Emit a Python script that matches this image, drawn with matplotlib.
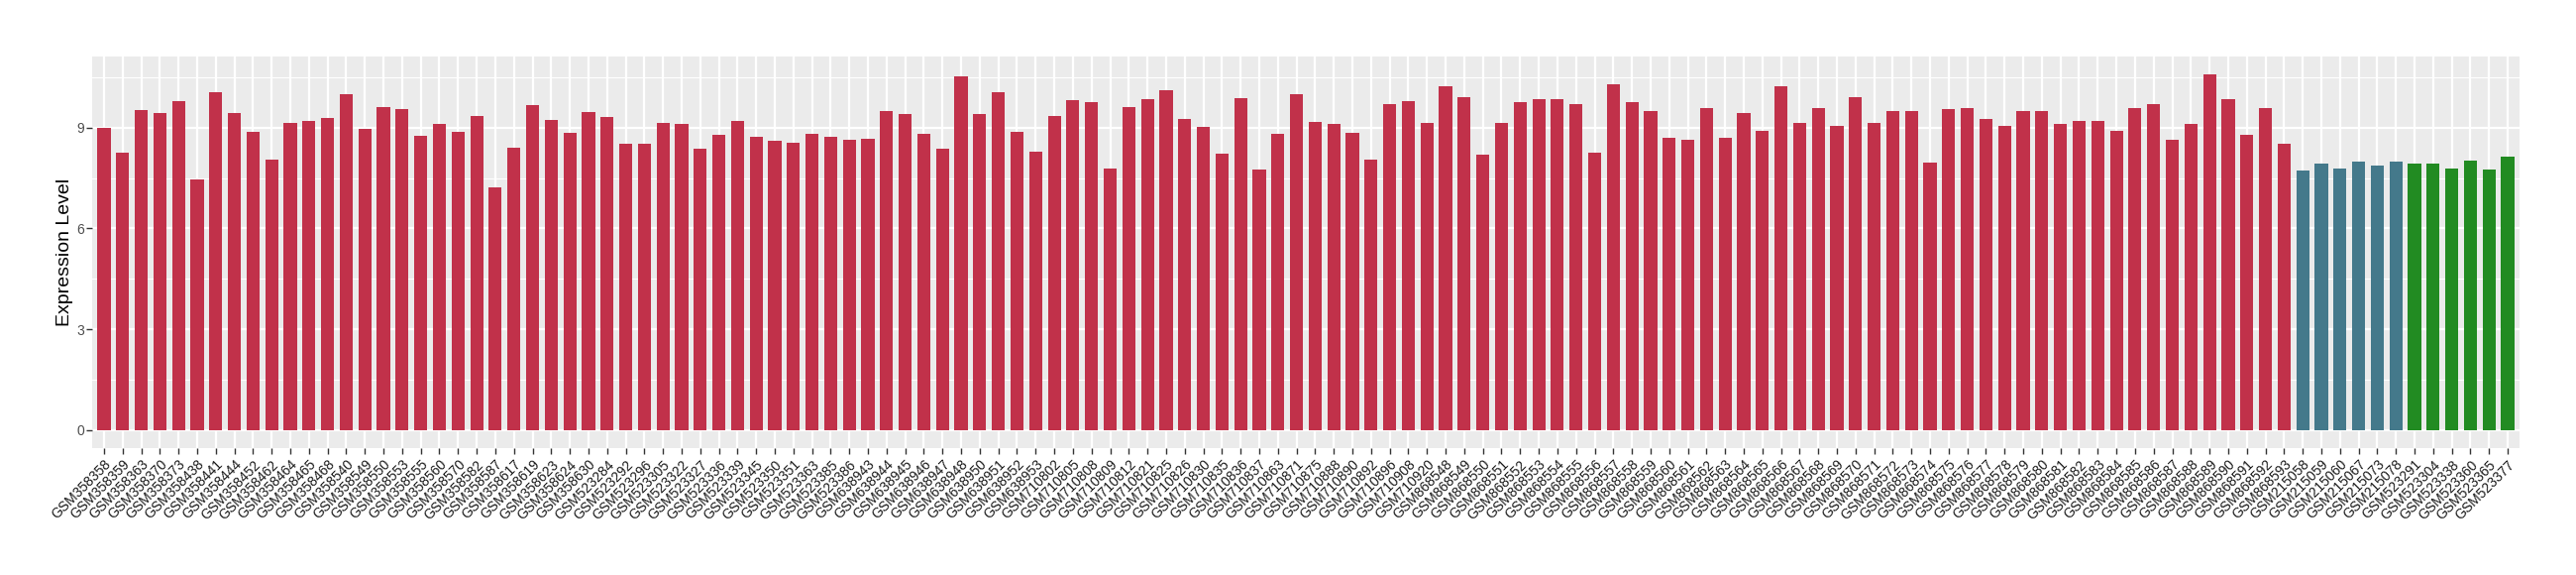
import matplotlib
matplotlib.use("Agg")
import matplotlib.pyplot as plt
from matplotlib.ticker import FixedLocator

plt.rcParams['font.family'] = ['Liberation Sans', 'DejaVu Sans']

group1_samples = [
    "GSM358358", "GSM358359", "GSM358363", "GSM358370", "GSM358373", "GSM358438",
    "GSM358441", "GSM358444", "GSM358452", "GSM358462", "GSM358464", "GSM358465",
    "GSM358468", "GSM358540", "GSM358549", "GSM358550", "GSM358553", "GSM358555",
    "GSM358560", "GSM358570", "GSM358582", "GSM358587", "GSM358617", "GSM358619",
    "GSM358623", "GSM358624", "GSM358630",
    "GSM523284", "GSM523292", "GSM523296", "GSM523305", "GSM523322", "GSM523327",
    "GSM523336", "GSM523339", "GSM523345", "GSM523350", "GSM523351", "GSM523363",
    "GSM523385", "GSM523386",
    "GSM638943", "GSM638944", "GSM638945", "GSM638946", "GSM638947", "GSM638948",
    "GSM638950", "GSM638951", "GSM638952", "GSM638953",
    "GSM710802", "GSM710805", "GSM710808", "GSM710809", "GSM710812", "GSM710821",
    "GSM710825", "GSM710826", "GSM710830", "GSM710835", "GSM710836", "GSM710837",
    "GSM710863", "GSM710871", "GSM710875", "GSM710888", "GSM710890", "GSM710892",
    "GSM710896", "GSM710908", "GSM710920",
    "GSM868548", "GSM868549", "GSM868550", "GSM868551", "GSM868552", "GSM868553",
    "GSM868554", "GSM868555", "GSM868556", "GSM868557", "GSM868558", "GSM868559",
    "GSM868560", "GSM868561", "GSM868562", "GSM868563", "GSM868564", "GSM868565",
    "GSM868566", "GSM868567", "GSM868568", "GSM868569", "GSM868570", "GSM868571",
    "GSM868572", "GSM868573", "GSM868574", "GSM868575", "GSM868576", "GSM868577",
    "GSM868578", "GSM868579", "GSM868580", "GSM868581", "GSM868582", "GSM868583",
    "GSM868584", "GSM868585", "GSM868586", "GSM868587", "GSM868588", "GSM868589",
    "GSM868590", "GSM868591", "GSM868592", "GSM868593",
]
group1_values = [
    9.00, 8.27, 9.54, 9.45, 9.78, 7.47, 10.07, 9.45, 8.89, 8.06, 9.13, 9.19,
    9.28, 10.01, 8.98, 9.63, 9.57, 8.77, 9.10, 8.89, 9.34, 7.21, 8.42, 9.66,
    9.22, 8.86, 9.48,
    9.31, 8.51, 8.51, 9.13, 9.10, 8.39, 8.80, 9.19, 8.74, 8.60, 8.54, 8.83,
    8.74, 8.63,
    8.68, 9.51, 9.42, 8.83, 8.39, 10.52, 9.42, 10.07, 8.89, 8.30,
    9.36, 9.81, 9.75, 7.80, 9.63, 9.84, 10.13, 9.25, 9.04, 8.24, 9.87, 7.77,
    8.83, 10.01, 9.16, 9.10, 8.86, 8.06, 9.70, 9.80, 9.15,
    10.25, 9.90, 8.20, 9.15, 9.75, 9.85, 9.85, 9.70, 8.25, 10.30, 9.75, 9.50,
    8.70, 8.65, 9.60, 8.70, 9.45, 8.90, 10.25, 9.15, 9.60, 9.05, 9.90, 9.15,
    9.50, 9.50, 7.95, 9.55, 9.60, 9.25, 9.05, 9.50, 9.50, 9.10, 9.20, 9.20,
    8.90, 9.60, 9.70, 8.65, 9.10, 10.60, 9.85, 8.80, 9.60, 8.51,
]
group2_samples = ["GSM215058", "GSM215059", "GSM215060", "GSM215067", "GSM215073", "GSM215078"]
group2_values = [7.74, 7.92, 7.80, 8.00, 7.88, 8.00]
group3_samples = ["GSM523291", "GSM523304", "GSM523338", "GSM523360", "GSM523365", "GSM523377"]
group3_values = [7.94, 7.94, 7.80, 8.03, 7.77, 8.15]

group_colors = ["#C1314A", "#44798B", "#228B22"]

samples = group1_samples + group2_samples + group3_samples
values = group1_values + group2_values + group3_values
colors = ([group_colors[0]] * len(group1_samples) + [group_colors[1]] * len(group2_samples)
          + [group_colors[2]] * len(group3_samples))

W, H = 2600, 580
fig = plt.figure(figsize=(W / 100, H / 100), dpi=100)
left, right, top, bottom = 93.3, 2542.7, 56.7, 451.7
ax = fig.add_axes([left / W, 1 - bottom / H, (right - left) / W, (bottom - top) / H])
ax.set_facecolor("#EBEBEB")

x = list(range(len(samples)))
ax.bar(x, values, width=0.7, color=colors, zorder=3)

n = len(samples)
ax.set_xlim(-0.62, n - 1 + 0.62)
ymax = max(values)
ax.set_ylim(-0.05 * ymax, ymax * 1.05)

ax.yaxis.set_major_locator(FixedLocator([0, 3, 6, 9]))
ax.yaxis.set_minor_locator(FixedLocator([1.5, 4.5, 7.5, 10.5]))
ax.set_xticks(x)
ax.set_xticklabels(samples, rotation=45, ha="right", va="top",
                   rotation_mode="anchor", fontsize=10, color="#1A1A1A")
ax.tick_params(axis="y", which="major", labelsize=10, labelcolor="#4D4D4D",
               length=4, width=1, color="#333333", pad=2)
ax.tick_params(axis="y", which="minor", length=0)
ax.tick_params(axis="x", which="major", length=4, width=1, color="#333333", pad=3)

ax.grid(True, which="major", color="white", linewidth=1.6, zorder=0)
ax.grid(True, which="minor", axis="y", color="white", linewidth=0.8, zorder=0)
ax.set_axisbelow(True)
for s in ax.spines.values():
    s.set_visible(False)

fig.text(65 / W, 1 - ((top + bottom) / 2) / H, "Expression Level", rotation=90,
         ha="center", va="center", fontsize=14, color="black")

fig.savefig("out.png", dpi=100)
